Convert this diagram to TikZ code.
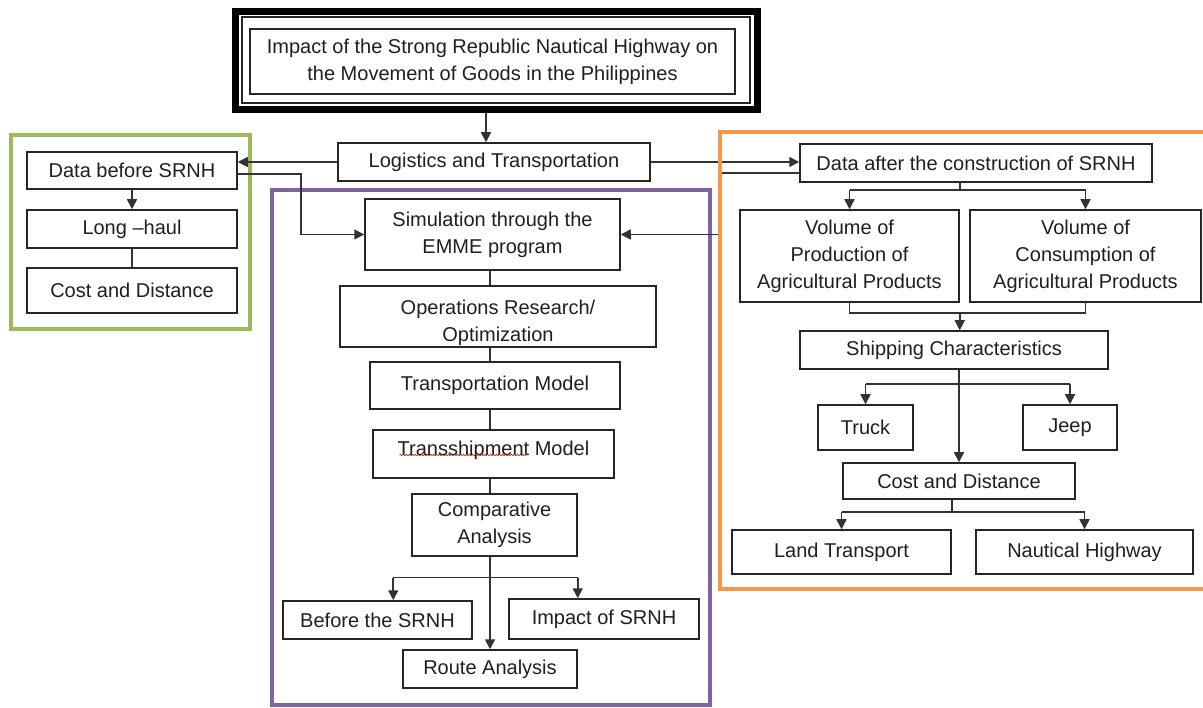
\documentclass[tikz,border=0pt]{standalone}
\usepackage{fontspec}
\setmainfont{Liberation Sans}
\usetikzlibrary{arrows.meta,decorations.pathmorphing,calc}
\definecolor{fgreen}{HTML}{9BBB59}
\definecolor{fpurple}{HTML}{8064A2}
\definecolor{forange}{HTML}{F79646}
\begin{document}
\begin{tikzpicture}[x=1pt,y=-1pt,
  box/.style={draw=black!85, line width=1.5pt, fill=white, inner sep=0pt, align=center,
    font=\fontsize{20}{27}\selectfont, text=black!88},
  arr/.style={line width=1.7pt, draw=black!80, -{Triangle[width=10pt,length=10pt]}},
  ln/.style={line width=1.7pt, draw=black!80},
  frame/.style={line width=4.5pt}]
\useasboundingbox (0,0) rectangle (1203,708);
\fill[white] (0,0) rectangle (1203,708);

% coloured frames
\draw[frame, draw=fgreen] (11,135) rectangle (250,329);
\draw[frame, draw=fpurple] (272,190) rectangle (710,705);

% title
\node[draw=black, line width=7pt, minimum width=522pt, minimum height=98pt, inner sep=0pt] (tframe) at (496,60.5) {};
\node[draw=black!85, line width=1.5pt, minimum width=508pt, minimum height=86pt, inner sep=0pt] (tthin) at (496,60) {};
\node[box, minimum width=485pt, minimum height=65pt] (title) at (492.5,61.5)
  {Impact of the Strong Republic Nautical Highway on\\the Movement of Goods in the Philippines};

% centre
\node[box, minimum width=312pt, minimum height=38pt] (logi) at (494,162) {Logistics and Transportation};

% left
\node[box, minimum width=210pt, minimum height=37pt] (before) at (132,170.5) {Data before SRNH};
\node[box, minimum width=210pt, minimum height=38pt] (longhaul) at (132,229) {Long –haul};
\node[box, minimum width=210pt, minimum height=45pt] (costb) at (132,290.5) {Cost and Distance};

% middle column
\node[box, minimum width=255pt, minimum height=71pt] (sim) at (492.5,234.5) {Simulation through the\\EMME program};
\node[box, minimum width=316pt, minimum height=61pt] (ops) at (498,316.5) {\rule{0pt}{28pt}Operations Research/\\Optimization};
\node[box, minimum width=250pt, minimum height=47pt] (transp) at (495,385.5) {Transportation Model};
\node[box, minimum width=241pt, minimum height=48pt] (transs) at (493.5,454) {Transshipment Model\rule[-11pt]{0pt}{11pt}};
\node[box, minimum width=165pt, minimum height=62pt] (comp) at (494.5,525) {Comparative\\Analysis};
\node[box, minimum width=189pt, minimum height=38pt] (beforeS) at (377.5,620) {Before the SRNH};
\node[box, minimum width=190pt, minimum height=40pt] (impact) at (604,619) {Impact of SRNH};
\node[box, minimum width=174pt, minimum height=38pt] (route) at (490,669) {Route Analysis};

% right
\node[box, minimum width=352pt, minimum height=38pt] (after) at (976,163) {Data after the construction of SRNH};
\node[box, minimum width=219pt, minimum height=92pt] (prod) at (849.5,256) {Volume of\\Production of\\Agricultural Products};
\node[box, minimum width=231pt, minimum height=92pt] (cons) at (1085.5,256) {Volume of\\Consumption of\\Agricultural Products};
\node[box, minimum width=308pt, minimum height=38pt] (ship) at (954,350) {Shipping Characteristics};
\node[box, minimum width=95pt, minimum height=45pt] (truck) at (865.5,427.5) {Truck};
\node[box, minimum width=94pt, minimum height=45pt] (jeep) at (1070,427.5) {Jeep};
\node[box, minimum width=232pt, minimum height=36pt] (costa) at (959,481) {Cost and Distance};
\node[box, minimum width=219pt, minimum height=44pt] (land) at (841.5,552) {Land Transport};
\node[box, minimum width=217pt, minimum height=44pt] (naut) at (1084.5,552) {Nautical Highway};

% spell-check squiggle
\draw[red!80!black, line width=0.5pt, decorate, decoration={snake, amplitude=0.8pt, segment length=3pt}]
  ($(transs.center)+(-94,1)$) -- ($(transs.center)+(35,1)$);

% connectors: top
\draw[arr] ([xshift=-10pt]tframe.south) -- ([xshift=-8pt]logi.north);
\draw[arr] (logi.west) -- (logi.west -| before.east);
\draw[arr] (logi.east) -- (logi.east -| after.west);

% left
\draw[arr] (before.south) -- (longhaul.north);
\draw[ln] (longhaul.south) -- (costb.north);
\draw[arr] ([yshift=-3.5pt]before.east) -- ++(63,0) |- (sim.west);

% from right frame to simulation
\draw[arr] ([yshift=-10pt]after.west) -- ++(-80,0) |- (sim.east);

% middle column
\draw[ln] ([xshift=-2.5pt]sim.south) -- ([xshift=-2.5pt]sim.south |- ops.north);
\draw[ln] ([xshift=-5pt]transp.north) -- ([xshift=-5pt]transp.north |- ops.south);
\draw[ln] ([xshift=-3.5pt]transs.north) -- ([xshift=-3.5pt]transs.north |- transp.south);
\draw[ln] ([xshift=-4.5pt]comp.north) -- ([xshift=-4.5pt]comp.north |- transs.south);
\draw[arr] (route.north |- comp.south) -- (route.north);
\coordinate (cb) at ($(comp.south)!0.5!(impact.north)$);
\draw[ln] ($(cb -| comp.west)+(-18,0)$) -- (cb -| comp.east);
\draw[arr] ($(cb -| comp.west)+(-18,0)$) -- ($(beforeS.north -| comp.west)+(-18,0)$);
\draw[arr] (cb -| comp.east) -- (impact.north -| comp.east);

% right
\coordinate (ab) at ($(prod.east |- after.south)+(0,7)$);
\draw[ln] (prod.east |- after.south) -- (ab);
\draw[ln] (ab -| prod.north) -- (ab -| cons.north);
\draw[arr] (ab -| prod.north) -- (prod.north);
\draw[arr] (ab -| cons.north) -- (cons.north);
\coordinate (pm) at ($(prod.south)+(0,10)$);
\draw[ln] (prod.south) -- (pm) -- (pm -| cons.south) -- (cons.south);
\draw[arr] (pm -| prod.east) -- (prod.east |- ship.north);
\coordinate (sb) at ($(costa.north |- ship.south)+(0,14)$);
\draw[arr] (costa.north |- ship.south) -- (costa.north);
\draw[ln] (sb -| truck.north) -- (sb -| jeep.north);
\draw[arr] (sb -| truck.north) -- (truck.north);
\draw[arr] (sb -| jeep.north) -- (jeep.north);
\coordinate (cb2) at ($(land.east |- costa.south)+(0,12)$);
\draw[ln] (land.east |- costa.south) -- (cb2);
\draw[ln] (cb2 -| land.north) -- (cb2 -| naut.north);
\draw[arr] (cb2 -| land.north) -- (land.north);
\draw[arr] (cb2 -| naut.north) -- (naut.north);

% orange frame (open on the right)
\draw[frame, draw=forange] (1210,132) -- (720,132) -- (720,589) -- (1210,589);
\end{tikzpicture}
\end{document}
